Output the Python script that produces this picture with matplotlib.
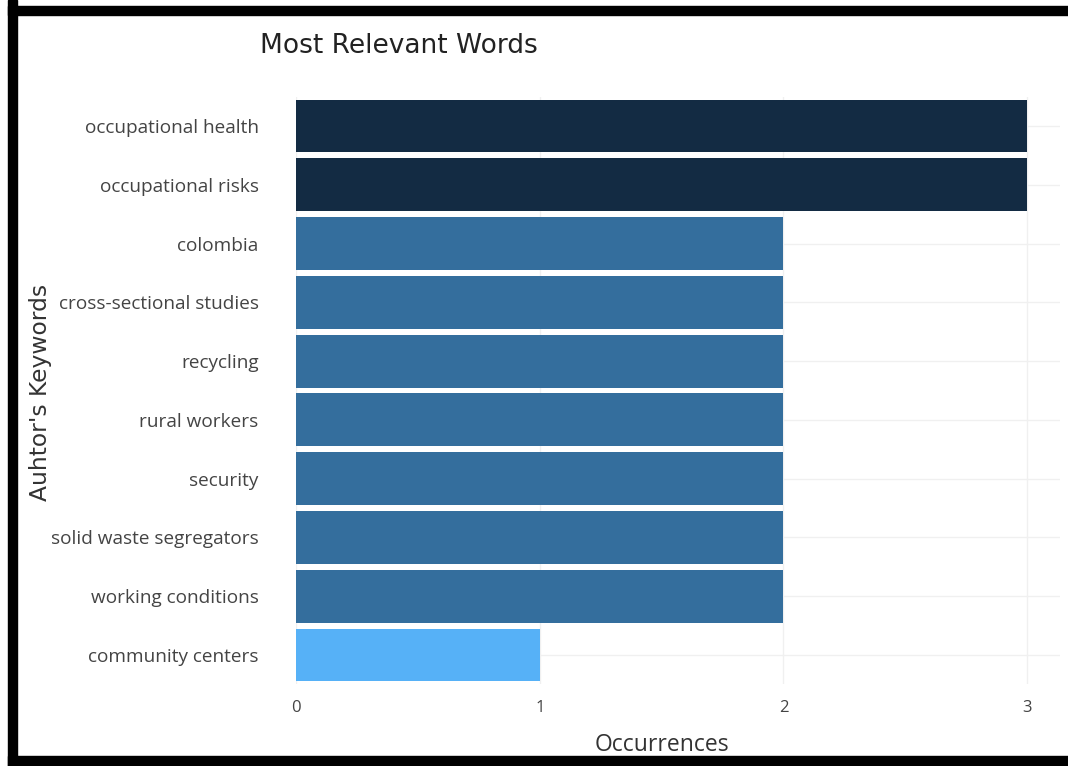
import numpy as np
import matplotlib
matplotlib.use("Agg")
from matplotlib import pyplot as plt
from matplotlib.colors import LinearSegmentedColormap
from matplotlib.patches import Rectangle

words = ["occupational health", "occupational risks", "colombia",
         "cross-sectional studies", "recycling", "rural workers", "security",
         "solid waste segregators", "working conditions", "community centers"]
occurrences = [3, 3, 2, 2, 2, 2, 2, 2, 2, 1]
xticks = [0, 1, 2, 3]

# dark = many occurrences, light = few
cmap = LinearSegmentedColormap.from_list("blues", ["#56B1F7", "#132B43"])
vals = np.array(occurrences, dtype=float)
norm = (vals - vals.min()) / (vals.max() - vals.min())
colors = [cmap(v) for v in norm]

fig = plt.figure(figsize=(10.68, 7.66), dpi=100)
ax = fig.add_axes([0.2772, 0.1065, 0.7154, 0.7674])

ypos = np.arange(len(words))
ax.barh(ypos, occurrences, height=0.9, color=colors, zorder=2)
ax.set_ylim(len(words) - 0.5, -0.5)
ax.set_xlim(0, 3.135)

ax.set_yticks(ypos)
ax.set_yticklabels(words, family="Open Sans", fontsize=13.7, color="#444444")
ax.set_xticks(xticks)
ax.set_xticklabels([str(t) for t in xticks], family="Open Sans", fontsize=12, color="#444444")
ax.tick_params(axis="y", length=0, pad=27)
ax.tick_params(axis="x", length=0, pad=11)

ax.grid(True, color="#f0f0f0", linewidth=1, zorder=0)
for s in ax.spines.values():
    s.set_visible(False)

fig.text(0.62, 0.027, "Occurrences", ha="center", va="center",
         family="Open Sans", fontsize=16.5, color="#333333")
fig.text(0.0375, 0.488, "Auhtor's Keywords", rotation=90, ha="center", va="center",
         family="DejaVu Sans", fontsize=16.8, color="#333333")
fig.text(0.243, 0.94, "Most Relevant Words", ha="left", va="center",
         family="DejaVu Sans", fontsize=19, color="#222222")

# black frame around the screenshot (left, top, bottom)
W, H = 1068, 766
fig.patches.append(Rectangle((8 / W, 0), 9 / W, 1, transform=fig.transFigure, color="black"))
fig.patches.append(Rectangle((8 / W, 1 - 15 / H), 1, 9 / H, transform=fig.transFigure, color="black"))
fig.patches.append(Rectangle((8 / W, 0), 1, 10 / H, transform=fig.transFigure, color="black"))

fig.savefig("out.png", dpi=100)
